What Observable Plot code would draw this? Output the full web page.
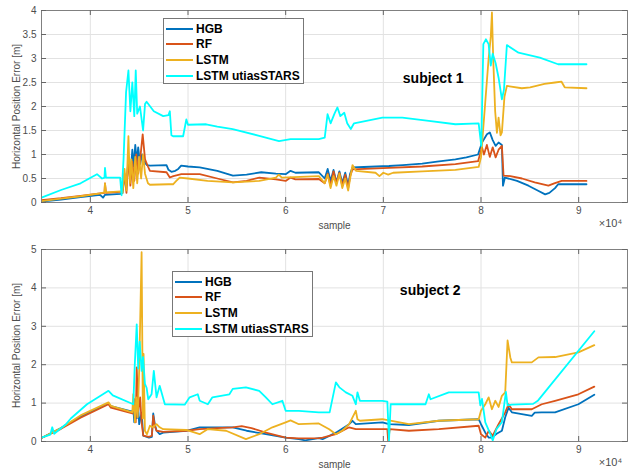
<!DOCTYPE html>
<html><head><meta charset="utf-8">
<script src="https://cdn.jsdelivr.net/npm/d3@7"></script>
<script src="https://cdn.jsdelivr.net/npm/@observablehq/plot@0.6"></script>
<style>
body{margin:0;background:#fff;font-family:Arial,"Liberation Sans",sans-serif}
#wrap{position:relative;width:644px;height:471px;overflow:hidden;background:#fff}
#wrap svg{display:block}
.legend{position:absolute;background:#fff;border:1px solid #777;font-weight:bold;font-size:12px;color:#000;box-sizing:border-box;padding-top:2px}
.legend .row{display:flex;align-items:center;height:15.6px;white-space:nowrap}
.legend .sw{width:27px;height:2px;margin:0 3px 0 2px;flex:none}
</style></head><body><div id="wrap"></div>
<script>
const seriesNames = ["HGB", "RF", "LSTM", "LSTM utiasSTARS"];
const seriesColors = ["#0072BD", "#D95319", "#EDB120", "#00FFFF"];
const xTickValues = [40000, 50000, 60000, 70000, 80000, 90000];
const yTicksTop = [0, 0.5, 1, 1.5, 2, 2.5, 3, 3.5, 4];
const yTicksBottom = [0, 1, 2, 3, 4, 5];
const subjectLabels = ["subject 1", "subject 2"];

// ---- subject 1 ----
const s1HGB = [[35000,0.02],[37000,0.06],[39000,0.11],[41000,0.16],[41300,0.1],[41500,0.16],[43100,0.18],[43300,0.2],[43500,0.55],[43700,0.35],[43900,0.9],[44100,0.55],[44300,1.1],[44450,0.75],[44600,1.2],[44750,0.85],[44900,1.15],[45100,0.8],[45300,1.0],[45500,0.85],[45800,0.78],[46100,0.77],[47800,0.78],[48000,0.68],[48300,0.64],[48700,0.66],[49000,0.7],[49300,0.77],[50000,0.75],[51200,0.73],[53000,0.66],[54600,0.56],[56000,0.58],[57500,0.63],[59000,0.6],[60000,0.59],[60500,0.66],[61000,0.62],[63400,0.63],[64000,0.5],[64300,0.7],[64600,0.45],[64900,0.68],[65200,0.42],[65500,0.65],[65800,0.4],[66100,0.62],[66400,0.35],[66600,0.6],[66840,0.73],[68000,0.74],[70580,0.76],[72000,0.78],[73980,0.81],[75500,0.85],[77380,0.9],[78500,0.94],[79700,1.0],[80100,1.25],[80610,1.42],[80900,1.46],[81200,1.3],[81500,1.18],[81800,1.25],[82140,1.2],[82250,0.35],[82450,0.52],[83690,0.45],[84860,0.35],[85800,0.25],[86570,0.17],[87000,0.2],[87580,0.3],[87900,0.38],[89000,0.38],[90800,0.38]];
const s1RF = [[35000,0.05],[37000,0.09],[39000,0.14],[41000,0.19],[41450,0.2],[41500,0.4],[41600,0.2],[43100,0.22],[43300,0.25],[43500,0.6],[43700,0.2],[43900,0.95],[44100,0.35],[44300,0.85],[44500,0.45],[44700,1.0],[44900,0.6],[45100,0.9],[45360,1.42],[45600,0.9],[45900,0.75],[46100,0.66],[47800,0.63],[48140,0.52],[48500,0.55],[49320,0.59],[51200,0.59],[53000,0.5],[54600,0.42],[56000,0.45],[57300,0.52],[59000,0.48],[60000,0.45],[60500,0.52],[61000,0.48],[63400,0.49],[64000,0.4],[64300,0.6],[64600,0.35],[64900,0.65],[65200,0.4],[65500,0.62],[65800,0.35],[66100,0.58],[66400,0.3],[66600,0.55],[66840,0.69],[70580,0.72],[73980,0.75],[77380,0.8],[79700,0.86],[80100,1.15],[80300,1.0],[80600,1.2],[80900,0.95],[81200,1.15],[81500,0.94],[81800,1.1],[82140,1.18],[82310,0.56],[83000,0.55],[84200,0.5],[85500,0.42],[86900,0.35],[87500,0.4],[88260,0.45],[90800,0.45]];
const s1LSTM = [[35000,0.03],[37000,0.08],[39000,0.13],[41000,0.19],[41450,0.21],[41500,0.4],[41600,0.21],[43100,0.23],[43300,0.2],[43500,0.7],[43700,0.25],[43900,1.38],[44050,0.4],[44200,0.9],[44400,0.3],[44600,0.95],[44800,0.4],[45000,0.95],[45200,0.5],[45400,1.0],[45600,0.6],[45900,0.4],[46100,0.37],[48000,0.38],[48470,0.38],[48800,0.45],[49150,0.52],[50000,0.5],[52000,0.45],[54600,0.42],[57300,0.45],[59000,0.52],[59300,0.58],[59600,0.52],[63400,0.55],[64000,0.4],[64300,0.58],[64600,0.3],[64900,0.55],[65200,0.35],[65500,0.6],[65800,0.3],[66100,0.5],[66400,0.25],[66600,0.5],[66840,0.78],[67200,0.66],[69200,0.62],[69600,0.55],[70000,0.62],[70500,0.58],[71000,0.62],[73980,0.65],[77380,0.68],[79760,0.74],[80000,0.94],[80440,2.1],[80780,3.0],[81000,3.45],[81120,3.96],[81250,3.0],[81450,1.9],[81630,1.45],[81800,1.77],[82000,1.4],[82140,1.46],[82400,2.2],[82650,2.43],[84180,2.38],[85030,2.4],[86500,2.47],[87580,2.5],[88230,2.52],[88570,2.4],[90800,2.38]];
const s1STARS = [[35000,0.1],[37000,0.26],[39000,0.4],[40680,0.59],[41200,0.5],[41450,0.52],[41500,0.72],[41600,0.52],[43050,0.52],[43200,0.15],[43400,0.9],[43660,2.3],[43900,2.75],[44100,1.9],[44300,2.5],[44500,1.8],[44650,2.75],[44800,1.85],[45080,2.0],[45400,1.5],[45600,2.05],[45760,2.1],[46500,1.9],[47460,1.8],[48000,1.82],[48140,1.9],[48300,1.4],[48470,1.38],[49500,1.38],[49830,1.73],[50000,1.62],[51860,1.63],[53000,1.58],[54580,1.53],[57290,1.39],[59320,1.28],[60500,1.32],[63390,1.32],[64000,1.35],[64290,1.84],[64600,1.65],[65000,1.85],[65300,1.98],[65600,1.8],[66000,1.87],[66300,1.65],[66670,1.53],[67000,1.65],[69900,1.77],[71940,1.77],[74660,1.7],[77380,1.63],[79760,1.65],[80030,1.18],[80240,3.3],[80500,3.4],[80780,3.3],[81000,2.85],[81200,3.1],[81500,2.9],[81800,2.6],[82140,2.15],[82350,2.35],[82650,3.28],[83840,3.12],[86020,3.02],[87890,2.88],[90800,2.88]];

// ---- subject 2 ----
const s2HGB = [[35000,0.09],[37000,0.35],[39000,0.65],[41860,0.99],[42100,0.92],[44300,0.78],[44400,0.85],[44500,0.5],[44600,1.06],[44750,0.6],[44900,0.9],[45000,0.45],[45250,0.75],[45420,0.15],[46000,0.1],[46300,0.12],[46440,0.73],[46600,0.45],[46780,0.28],[47100,0.19],[47460,0.23],[49830,0.28],[51190,0.37],[53000,0.37],[54580,0.37],[56000,0.28],[57970,0.19],[60000,0.1],[61350,0.06],[62000,0.03],[63390,0.09],[63780,0.06],[65140,0.23],[66500,0.45],[66840,0.54],[67180,0.45],[69900,0.5],[70580,0.45],[72620,0.43],[75680,0.54],[79760,0.58],[80000,0.45],[80440,0.23],[80800,0.1],[81120,0.1],[81600,0.2],[82140,0.28],[82480,0.63],[82820,0.88],[83160,0.76],[85200,0.67],[85500,0.75],[86220,0.76],[87580,0.76],[89970,0.97],[91600,1.22]];
const s2RF = [[35000,0.09],[37000,0.33],[39000,0.62],[41860,0.97],[42100,0.88],[44300,0.73],[44500,1.1],[44650,0.5],[44750,1.93],[44900,0.8],[45100,1.15],[45250,0.5],[45420,0.15],[46000,0.12],[46300,0.15],[46440,0.67],[46600,0.4],[46780,0.28],[47460,0.25],[49830,0.28],[51190,0.32],[53000,0.35],[54580,0.37],[55500,0.4],[56500,0.35],[57970,0.23],[60000,0.1],[61350,0.08],[63390,0.09],[63780,0.1],[65140,0.19],[66500,0.37],[67180,0.32],[70410,0.32],[70500,0.0],[70650,0.32],[72620,0.28],[75680,0.32],[79760,0.41],[80000,0.19],[80440,0.1],[80800,0.28],[81200,0.15],[81800,0.45],[82480,0.76],[82820,0.97],[83160,0.84],[85200,0.84],[86220,0.97],[87580,1.06],[89970,1.23],[91600,1.43]];
const s2LSTM = [[35000,0.09],[37000,0.35],[39000,0.68],[41860,1.02],[42100,0.93],[44300,0.76],[44400,1.23],[44570,0.5],[44700,1.15],[44850,0.63],[45000,1.84],[45250,4.93],[45380,0.6],[45450,2.28],[45590,0.28],[45800,0.19],[46100,0.41],[46370,0.37],[46780,0.45],[47100,0.37],[47460,0.32],[49830,0.3],[51190,0.19],[52000,0.32],[53900,0.28],[55930,0.06],[57290,0.19],[58640,0.37],[60000,0.5],[60500,0.55],[61350,0.45],[63390,0.47],[64460,0.32],[65140,0.19],[65800,0.28],[66500,0.45],[67180,0.8],[67350,0.58],[67600,0.54],[69900,0.58],[72620,0.45],[75680,0.54],[79760,0.58],[80000,0.8],[80440,0.97],[80780,1.15],[81120,0.84],[81460,1.06],[81800,0.9],[82140,1.19],[82480,1.28],[82720,2.63],[83000,2.19],[83160,2.06],[85200,2.06],[85880,2.19],[87580,2.2],[89970,2.32],[91600,2.51]];
const s2STARS = [[35000,0.1],[35900,0.18],[36100,0.37],[36300,0.2],[37500,0.45],[38000,0.6],[39660,0.97],[41860,1.32],[42300,1.2],[44400,0.97],[44550,2.0],[44750,3.05],[44900,1.9],[45050,2.6],[45250,1.84],[45400,2.2],[45590,1.5],[45760,1.4],[45930,1.1],[46270,1.23],[46500,1.84],[46780,1.15],[47100,1.45],[47630,0.97],[49660,0.96],[50170,1.15],[51000,1.23],[51200,1.06],[52030,0.97],[52500,1.15],[54240,1.23],[54580,1.37],[55930,1.41],[57290,1.32],[57970,1.15],[58640,0.97],[59660,1.06],[60000,0.8],[61350,0.8],[63390,0.76],[64500,0.76],[65140,1.54],[65500,1.41],[66160,1.28],[66840,1.19],[67180,0.97],[67350,1.28],[67600,1.06],[69900,1.06],[70410,1.04],[70580,0.02],[70750,0.97],[74320,0.97],[74660,1.23],[74830,1.1],[76700,1.28],[79760,1.28],[79930,0.94],[80100,1.11],[80440,0.5],[81020,0.16],[81200,0.03],[81600,0.33],[82140,0.5],[82550,1.29],[82720,0.94],[83130,0.96],[85340,0.98],[85850,1.07],[91600,2.87]];

function table(arrays) {
  const rows = [];
  arrays.forEach((arr, i) => arr.forEach(([x, y]) => rows.push({series: seriesNames[i], x, y})));
  return rows;
}

const font = "Arial, 'Liberation Sans', Helvetica, sans-serif";

function makePlot(opts) {
  const {data, yTicks, height, marginTop, marginBottom, subject} = opts;
  const marginLeft = 41, marginRight = 17, width = 644;
  const fh = height - marginTop - marginBottom;
  const fw = width - marginLeft - marginRight;
  const yMax = yTicks[yTicks.length - 1];
  return Plot.plot({
    width, height, marginTop, marginBottom, marginLeft, marginRight,
    style: {fontFamily: font, fontSize: "10px", color: "#4d4d4d", background: "white", overflow: "visible"},
    x: {domain: [35000, 95000]},
    y: {domain: [0, yMax]},
    color: {domain: seriesNames, range: seriesColors},
    marks: [
      Plot.gridX(xTickValues, {stroke: "#e2e2e2", strokeOpacity: 1}),
      Plot.gridY(yTicks, {stroke: "#e2e2e2", strokeOpacity: 1}),
      Plot.line(data, {x: "x", y: "y", z: "series", stroke: "series", strokeWidth: 1.8, clip: true}),
      Plot.frame({stroke: "#808080"}),
      Plot.tickX(xTickValues, {insetTop: fh - 5, stroke: "#666"}),
      Plot.tickX(xTickValues, {insetBottom: fh - 5, stroke: "#666"}),
      Plot.tickY(yTicks, {insetRight: fw - 5, stroke: "#666"}),
      Plot.tickY(yTicks, {insetLeft: fw - 5, stroke: "#666"}),
      Plot.axisX(xTickValues, {tickSize: 0, tickPadding: 4, tickFormat: d => d / 10000, label: "sample", labelAnchor: "center", labelArrow: "none", labelOffset: 26}),
      Plot.axisY(yTicks, {tickSize: 0, tickPadding: 5, tickFormat: d => String(d), label: "Horizontal Position Error [m]", labelAnchor: "center", labelArrow: "none", labelOffset: 29}),
      Plot.text(["×10⁴"], {frameAnchor: "bottom-right", dx: -17, dy: 24, textAnchor: "middle", fontSize: 11, fill: "#4d4d4d"}),
      Plot.text(subject, {x: "x", y: "y", text: "t", fontSize: 14, fontWeight: "bold", fill: "#000"})
    ]
  });
}

const wrap = document.getElementById("wrap");
const p1 = makePlot({
  data: table([s1HGB, s1RF, s1LSTM, s1STARS]), yTicks: yTicksTop,
  height: 230, marginTop: 10, marginBottom: 28,
  subject: [{x: 75100, y: 2.59, t: subjectLabels[0]}]
});
const p2 = makePlot({
  data: table([s2HGB, s2RF, s2LSTM, s2STARS]), yTicks: yTicksBottom,
  height: 241, marginTop: 19, marginBottom: 30,
  subject: [{x: 74800, y: 3.92, t: subjectLabels[1]}]
});
wrap.appendChild(p1);
wrap.appendChild(p2);

function legend(left, top) {
  const div = document.createElement("div");
  div.className = "legend";
  Object.assign(div.style, {left: left + "px", top: top + "px", width: "141px", height: "66px"});
  seriesNames.forEach((n, i) => {
    const row = document.createElement("div");
    row.className = "row";
    const sw = document.createElement("span");
    sw.className = "sw";
    sw.style.background = seriesColors[i];
    const t = document.createElement("span");
    t.textContent = n;
    row.appendChild(sw); row.appendChild(t);
    div.appendChild(row);
  });
  wrap.appendChild(div);
}
legend(163, 18);
legend(172, 271);
</script>
</body></html>
